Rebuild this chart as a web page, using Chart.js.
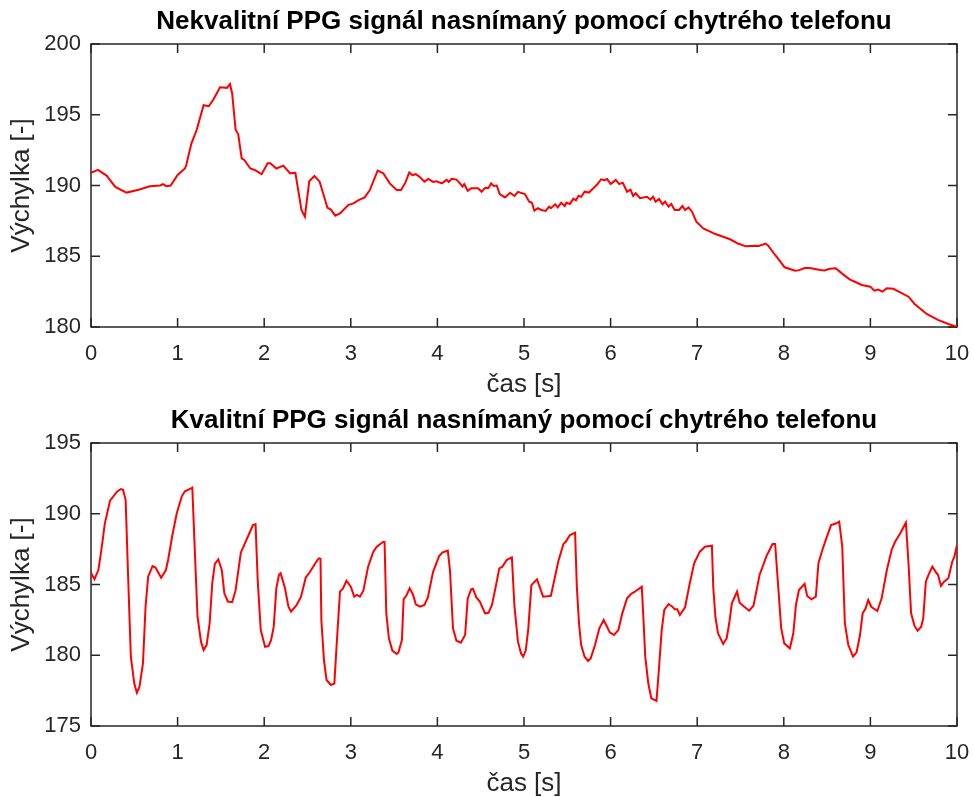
<!DOCTYPE html>
<html lang="cs">
<head>
<meta charset="utf-8">
<title>PPG signál</title>
<script src="https://cdn.jsdelivr.net/npm/chart.js@4"></script>
<style>
  body { margin: 0; background: #fff; overflow: hidden; }
  canvas { position: absolute; left: 0; }
  #grafHorni { top: 0; }
  #grafDolni { top: 399px; }
</style>
</head>
<body>
<canvas id="grafHorni" width="974" height="400"></canvas>
<canvas id="grafDolni" width="974" height="400"></canvas>
<script>
// nekvalitni signal - cas [s] a vychylka
const casHorni = [0, 0.08, 0.18, 0.28, 0.41, 0.55, 0.68, 0.8, 0.83, 0.87, 0.92, 1, 1.085, 1.1, 1.16, 1.22, 1.3, 1.36, 1.41, 1.49, 1.57, 1.605, 1.63, 1.67, 1.7, 1.74, 1.77, 1.84, 1.89, 1.97, 2.04, 2.07, 2.14, 2.22, 2.3, 2.36, 2.43, 2.47, 2.52, 2.58, 2.64, 2.68, 2.73, 2.77, 2.82, 2.875, 2.97, 3.03, 3.09, 3.16, 3.22, 3.31, 3.375, 3.45, 3.53, 3.58, 3.63, 3.675, 3.71, 3.75, 3.8, 3.85, 3.895, 3.95, 3.99, 4.05, 4.107, 4.13, 4.165, 4.22, 4.26, 4.29, 4.31, 4.35, 4.39, 4.47, 4.51, 4.55, 4.59, 4.62, 4.65, 4.685, 4.72, 4.78, 4.84, 4.89, 4.93, 5.01, 5.06, 5.09, 5.12, 5.16, 5.2, 5.25, 5.29, 5.31, 5.36, 5.39, 5.43, 5.47, 5.49, 5.53, 5.57, 5.6, 5.63, 5.66, 5.7, 5.75, 5.8, 5.85, 5.89, 5.93, 5.96, 6, 6.06, 6.1, 6.14, 6.19, 6.23, 6.26, 6.29, 6.34, 6.42, 6.46, 6.49, 6.52, 6.56, 6.6, 6.63, 6.67, 6.7, 6.74, 6.79, 6.83, 6.86, 6.9, 6.94, 6.99, 7.07, 7.21, 7.38, 7.47, 7.56, 7.67, 7.71, 7.79, 7.82, 7.9, 7.96, 8.01, 8.13, 8.18, 8.24, 8.3, 8.42, 8.47, 8.53, 8.6, 8.67, 8.76, 8.82, 8.9, 9, 9.045, 9.09, 9.14, 9.19, 9.265, 9.34, 9.44, 9.51, 9.65, 9.78, 9.9, 10]
const vychylkaHorni = [190.9, 191.1, 190.7, 189.9, 189.5, 189.7, 189.95, 190, 190.1, 189.95, 190, 190.74, 191.2, 191.45, 192.98, 193.92, 195.67, 195.6, 196.04, 196.94, 196.9, 197.17, 196.5, 193.92, 193.64, 191.92, 191.8, 191.2, 191.1, 190.8, 191.57, 191.57, 191.2, 191.4, 190.86, 190.9, 188.27, 187.8, 190.3, 190.67, 190.27, 189.45, 188.43, 188.3, 187.87, 188.03, 188.62, 188.74, 188.97, 189.16, 189.68, 191.05, 190.86, 190.15, 189.68, 189.68, 190.2, 190.93, 190.74, 190.8, 190.58, 190.27, 190.46, 190.25, 190.3, 190.15, 190.4, 190.25, 190.48, 190.42, 190.15, 189.92, 190.1, 189.63, 189.8, 189.8, 189.56, 189.83, 189.83, 190.15, 189.97, 190, 189.4, 189.16, 189.49, 189.26, 189.55, 189.4, 188.86, 188.8, 188.22, 188.39, 188.27, 188.2, 188.5, 188.4, 188.67, 188.45, 188.78, 188.55, 188.8, 188.7, 189.07, 188.95, 189.28, 189.2, 189.56, 189.5, 189.8, 190.1, 190.44, 190.38, 190.46, 190.1, 190.39, 190.1, 190.2, 189.56, 189.7, 189.26, 189.45, 189.1, 189.2, 189, 189.2, 188.86, 189.05, 188.67, 188.86, 188.5, 188.7, 188.27, 188.27, 188.55, 188.27, 188.45, 188.15, 187.44, 186.97, 186.57, 186.2, 185.9, 185.7, 185.75, 185.72, 185.9, 185.75, 185.09, 184.62, 184.22, 183.98, 184.02, 184.17, 184.17, 184.03, 184, 184.12, 184.15, 183.79, 183.37, 183.2, 182.97, 182.85, 182.57, 182.65, 182.5, 182.74, 182.7, 182.47, 182.14, 181.63, 180.92, 180.5, 180.21, 180.02]

// kvalitni signal
const casDolni = [0, 0.04, 0.085, 0.12, 0.16, 0.22, 0.3, 0.345, 0.37, 0.4, 0.43, 0.46, 0.5, 0.53, 0.56, 0.6, 0.63, 0.66, 0.71, 0.745, 0.81, 0.865, 0.89, 0.94, 0.99, 1.05, 1.085, 1.155, 1.17, 1.2, 1.23, 1.27, 1.3, 1.335, 1.37, 1.4, 1.43, 1.47, 1.51, 1.54, 1.58, 1.63, 1.67, 1.73, 1.82, 1.87, 1.9, 1.925, 1.96, 2.01, 2.05, 2.08, 2.11, 2.14, 2.17, 2.19, 2.24, 2.28, 2.31, 2.375, 2.425, 2.48, 2.53, 2.59, 2.63, 2.65, 2.66, 2.69, 2.72, 2.77, 2.81, 2.84, 2.875, 2.91, 2.95, 3, 3.04, 3.07, 3.105, 3.145, 3.2, 3.26, 3.3, 3.375, 3.39, 3.41, 3.44, 3.48, 3.53, 3.55, 3.59, 3.61, 3.645, 3.68, 3.72, 3.75, 3.8, 3.85, 3.89, 3.95, 4.02, 4.06, 4.12, 4.145, 4.18, 4.22, 4.27, 4.32, 4.35, 4.39, 4.41, 4.45, 4.49, 4.55, 4.59, 4.63, 4.67, 4.715, 4.75, 4.8, 4.86, 4.89, 4.93, 4.965, 4.99, 5.02, 5.05, 5.085, 5.15, 5.18, 5.22, 5.27, 5.31, 5.35, 5.395, 5.455, 5.48, 5.53, 5.59, 5.61, 5.635, 5.66, 5.7, 5.74, 5.77, 5.82, 5.87, 5.92, 5.955, 5.99, 6.04, 6.09, 6.135, 6.19, 6.235, 6.28, 6.36, 6.38, 6.4, 6.435, 6.47, 6.53, 6.56, 6.59, 6.62, 6.67, 6.71, 6.74, 6.77, 6.8, 6.86, 6.91, 6.965, 7.03, 7.09, 7.17, 7.185, 7.21, 7.24, 7.3, 7.34, 7.37, 7.4, 7.46, 7.49, 7.54, 7.6, 7.65, 7.72, 7.8, 7.87, 7.9, 7.93, 7.97, 8.005, 8.07, 8.11, 8.14, 8.175, 8.24, 8.27, 8.32, 8.37, 8.4, 8.445, 8.495, 8.545, 8.6, 8.64, 8.675, 8.705, 8.745, 8.8, 8.84, 8.88, 8.91, 8.945, 8.975, 9.01, 9.08, 9.13, 9.19, 9.245, 9.285, 9.34, 9.41, 9.44, 9.47, 9.51, 9.545, 9.585, 9.61, 9.64, 9.67, 9.715, 9.765, 9.78, 9.815, 9.85, 9.9, 9.945, 9.97, 10]
const vychylkaDolni = [185.83, 185.37, 186.02, 187.44, 189.32, 190.92, 191.56, 191.75, 191.7, 190.97, 185.32, 179.9, 178, 177.35, 177.78, 179.43, 183.43, 185.55, 186.3, 186.2, 185.48, 186.02, 186.73, 188.5, 190.03, 191.25, 191.59, 191.8, 191.85, 187.2, 182.72, 180.96, 180.37, 180.72, 182.26, 185.08, 186.45, 186.78, 186.03, 184.38, 183.8, 183.75, 184.6, 187.25, 188.5, 189.2, 189.26, 185.32, 181.78, 180.6, 180.65, 181.08, 182.02, 184.73, 185.67, 185.8, 184.73, 183.43, 183.08, 183.55, 184.14, 185.5, 185.9, 186.5, 186.85, 186.82, 182.49, 179.66, 178.25, 177.9, 178, 181.08, 184.5, 184.73, 185.27, 184.85, 184.14, 184.26, 184.14, 184.56, 186.26, 187.32, 187.67, 188.02, 188, 182.96, 181.2, 180.33, 180.09, 180.2, 181.08, 183.95, 184.26, 184.73, 184.26, 183.6, 183.43, 183.55, 184.09, 185.9, 187.01, 187.27, 187.39, 186.02, 181.9, 181.03, 180.89, 181.43, 184.02, 184.66, 184.7, 184.09, 183.79, 182.96, 183, 183.55, 184.73, 186.14, 186.26, 186.73, 186.92, 183.43, 180.96, 180.14, 179.9, 180.33, 181.9, 184.96, 185.37, 184.85, 184.14, 184.17, 184.2, 185.32, 186.61, 187.86, 188, 188.5, 188.66, 184.85, 182.26, 180.72, 179.9, 179.6, 179.78, 180.72, 181.9, 182.49, 182.07, 181.62, 181.43, 181.78, 182.96, 184.02, 184.33, 184.49, 184.85, 182.49, 179.9, 178.02, 176.96, 176.77, 179.19, 181.78, 183.2, 183.62, 183.45, 183.25, 183.25, 182.84, 183.39, 184.96, 186.5, 187.32, 187.67, 187.74, 184.85, 182.72, 181.55, 180.8, 181.2, 182.26, 183.67, 184.49, 183.71, 183.45, 183.15, 183.5, 185.67, 187.01, 187.86, 187.86, 185.32, 181.9, 180.84, 180.49, 181.55, 183.55, 184.61, 185.04, 184.19, 183.95, 184.14, 186.5, 187.44, 188.33, 189.2, 189.31, 189.44, 187.67, 182.26, 180.72, 179.9, 180.2, 181.43, 182.96, 183.32, 183.9, 183.43, 183.13, 184.02, 186.02, 187.44, 188.02, 188.57, 189.37, 186.5, 182.96, 182.07, 181.74, 182, 182.6, 185.2, 185.67, 186.26, 185.79, 185.7, 184.9, 185.2, 185.44, 186.61, 186.97, 187.8]

const nadpisHorni = 'Nekvalitní PPG signál nasnímaný pomocí chytrého telefonu'
const nadpisDolni = 'Kvalitní PPG signál nasnímaný pomocí chytrého telefonu'
const popisX = 'čas [s]'
const popisY = 'Výchylka [-]'

const pismo = 'Liberation Sans, Arial, Helvetica, sans-serif'
const sedaOs = '#262626'

// ramecek kolem grafu s dovnitr otocenymi carkami (jako v Matlabu)
const ramecek = {
    id: 'ramecek',
    beforeDatasetsDraw(chart) {
        const { ctx, chartArea: a, scales: { x, y } } = chart
        ctx.save()
        ctx.strokeStyle = sedaOs
        ctx.lineWidth = 1.5
        ctx.strokeRect(a.left, a.top, a.right - a.left, a.bottom - a.top)
        ctx.beginPath()
        x.ticks.forEach((t) => {
            const px = x.getPixelForValue(t.value)
            ctx.moveTo(px, a.bottom)
            ctx.lineTo(px, a.bottom - 9)
            ctx.moveTo(px, a.top)
            ctx.lineTo(px, a.top + 9)
        })
        y.ticks.forEach((t) => {
            const py = y.getPixelForValue(t.value)
            ctx.moveTo(a.left, py)
            ctx.lineTo(a.left + 9, py)
            ctx.moveTo(a.right, py)
            ctx.lineTo(a.right - 9, py)
        })
        ctx.stroke()
        ctx.restore()
    }
}

function vytvorGraf(id, nadpis, cas, vychylka, minY, maxY) {
    const data = cas.map((t, i) => {
        return { x: t, y: vychylka[i] }
    })

    const config = {
        type: 'line',
        data: {
            datasets: [{
                data: data,
                borderColor: '#ff0000',
                borderWidth: 2,
                pointRadius: 0,
                fill: false,
                tension: 0
            }]
        },
        options: {
            responsive: false,
            animation: false,
            layout: { padding: 0 },
            plugins: {
                legend: { display: false },
                tooltip: { enabled: false },
                title: {
                    display: true,
                    text: nadpis,
                    fullSize: false,
                    color: '#000',
                    font: { family: pismo, size: 26, weight: 'bold' },
                    padding: { top: 6.4, bottom: 6.4 }
                }
            },
            scales: {
                x: {
                    type: 'linear',
                    min: 0,
                    max: 10,
                    grid: { display: false, drawTicks: false },
                    border: { display: false },
                    ticks: { stepSize: 1, padding: 14, color: sedaOs, font: { family: pismo, size: 22 } },
                    title: { display: true, text: popisX, color: sedaOs, font: { family: pismo, size: 26 }, padding: 0 },
                    afterFit(scale) {
                        scale.height = 73
                        scale.paddingLeft = 0
                        scale.paddingRight = 17
                    }
                },
                y: {
                    min: minY,
                    max: maxY,
                    grid: { display: false, drawTicks: false },
                    border: { display: false },
                    ticks: { stepSize: 5, padding: 10, color: sedaOs, font: { family: pismo, size: 22 } },
                    title: { display: true, text: popisY, color: sedaOs, font: { family: pismo, size: 26 }, padding: { top: 6.4, bottom: 0 } },
                    afterFit(scale) { scale.width = 91 }
                }
            }
        },
        plugins: [ramecek]
    }

    new Chart(document.querySelector(id), config)
}

vytvorGraf('#grafHorni', nadpisHorni, casHorni, vychylkaHorni, 180, 200)
vytvorGraf('#grafDolni', nadpisDolni, casDolni, vychylkaDolni, 175, 195)
</script>
</body>
</html>
